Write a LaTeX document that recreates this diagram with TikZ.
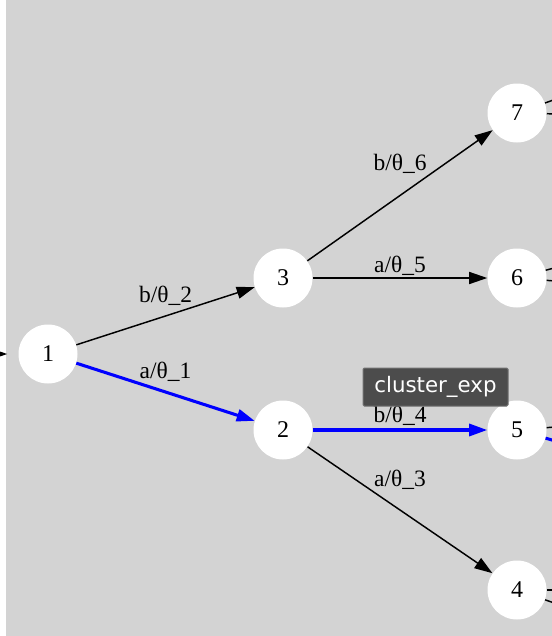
\documentclass[tikz,border=0pt]{standalone}
\usepackage{fontspec}
\setmainfont{Liberation Serif}
\newfontfamily\tipfont{DejaVu Sans}
\usetikzlibrary{arrows.meta}
\definecolor{bggray}{RGB}{211,211,211}
\definecolor{tipgray}{RGB}{76,76,76}
\definecolor{tipedge}{RGB}{112,112,112}
\tikzset{
  state/.style={circle, fill=white, draw=none, minimum size=44.25pt, inner sep=0pt, font=\fontsize{18}{20}\selectfont},
  trans/.style={line width=1.1pt, -{Triangle[length=13.5pt,width=9pt]}},
  hot/.style={trans, draw=blue, line width=2.3pt},
  stub/.style={line width=1.1pt},
  lbl/.style={midway, inner sep=0pt, font=\fontsize{17.6}{20}\selectfont},
  tipbox/.style={rectangle, rounded corners=1pt, fill=tipgray, draw=tipedge, line width=0.75pt, text=white, minimum width=108.75pt, minimum height=28.5pt, font=\tipfont\fontsize{16}{18}\selectfont}
}
\begin{document}
\begin{tikzpicture}[x=0.75pt,y=0.75pt,yscale=-1,xscale=1]
\useasboundingbox (0,0) rectangle (552,636);
\clip (0,0) rectangle (552,636);
\fill[bggray] (6,0) rectangle (552,636);
% states
\node[state] (n1) at (48,354) {1};
\node[state] (n2) at (283,430) {2};
\node[state] (n3) at (283,278) {3};
\node[state] (n4) at (517,590) {4};
\node[state] (n5) at (517,430) {5};
\node[state] (n6) at (517,278) {6};
\node[state] (n7) at (517,113) {7};
% free ends outside the frame
\coordinate (in1) at (-40,354);
\coordinate (o7a) at (580,90.5);
\coordinate (o7b) at (580,114.5);
\coordinate (o6a) at (580,261);
\coordinate (o6b) at (580,283);
\coordinate (o5a) at (580,425);
\coordinate (o5b) at (580,448);
\coordinate (o4a) at (580,590);
\coordinate (o4b) at (580,612);
% transitions
\draw[trans, shorten >=8.25pt] (in1) -- (n1);
\draw[trans] (n1) -- (n3) node[lbl, yshift=15pt] {b/θ\_2};
\draw[hot] (n1) -- (n2) node[lbl, yshift=15pt, text=black] {a/θ\_1};
\draw[trans] (n3) -- (n7) node[lbl, yshift=24pt] {b/θ\_6};
\draw[trans] (n3) -- (n6) node[lbl, yshift=9pt] {a/θ\_5};
\draw[hot] (n2) -- (n5) node[lbl, yshift=11pt, text=black] {b/θ\_4};
\draw[trans] (n2) -- (n4) node[lbl, yshift=22.5pt] {a/θ\_3};
\draw[stub] (n7) -- (o7a);
\draw[stub] (n7) -- (o7b);
\draw[stub] (n6) -- (o6a);
\draw[stub] (n6) -- (o6b);
\draw[stub] (n5) -- (o5a);
\draw[stub, blue, line width=2.3pt] (n5) -- (o5b);
\draw[stub] (n4) -- (o4a);
\draw[stub] (n4) -- (o4b);
% tooltip
\node[tipbox] (tip) at (435.5,387) {cluster\_exp};
\end{tikzpicture}
\end{document}
